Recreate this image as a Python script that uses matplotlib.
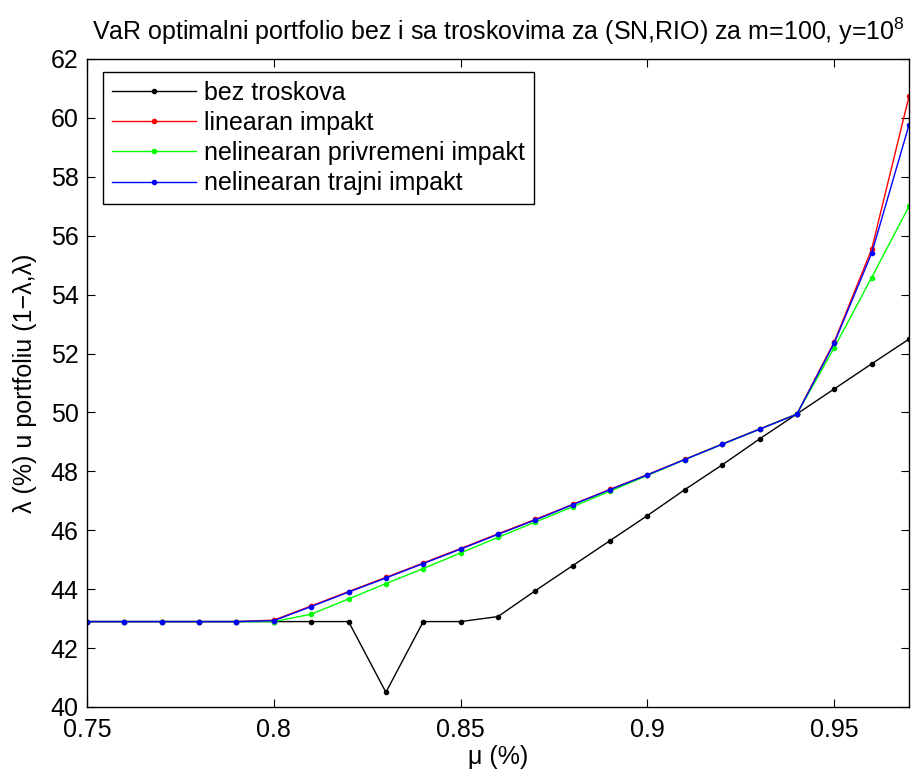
import matplotlib
matplotlib.use('Agg')
import matplotlib.pyplot as plt
import numpy as np

plt.rcParams['font.family'] = ['Liberation Sans', 'DejaVu Sans']
plt.rcParams['mathtext.fontset'] = 'custom'
plt.rcParams['mathtext.rm'] = 'Liberation Sans'

mu = [0.74, 0.75, 0.76, 0.77, 0.78, 0.79, 0.80, 0.81, 0.82, 0.83, 0.84, 0.85,
      0.86, 0.87, 0.88, 0.89, 0.90, 0.91, 0.92, 0.93, 0.94, 0.95, 0.96, 0.97]

bez_troskova = [42.9, 42.9, 42.9, 42.9, 42.9, 42.9, 42.9, 42.9, 42.9, 40.5, 42.9, 42.9,
                43.07, 43.95, 44.8, 45.65, 46.5, 47.38, 48.22, 49.1, 49.95, 50.8, 51.65, 52.49]
linearan = [42.9, 42.9, 42.9, 42.9, 42.9, 42.9, 42.95, 43.43, 43.92, 44.4, 44.89, 45.38,
            45.88, 46.37, 46.88, 47.39, 47.89, 48.41, 48.93, 49.44, 49.95, 52.4, 55.54, 60.73]
nelin_privremeni = [42.9, 42.9, 42.9, 42.9, 42.9, 42.9, 42.9, 43.15, 43.67, 44.19, 44.7, 45.23,
                    45.76, 46.28, 46.8, 47.33, 47.86, 48.4, 48.92, 49.43, 49.95, 52.2, 54.58, 57.0]
nelin_trajni = [42.9, 42.9, 42.9, 42.9, 42.9, 42.9, 42.93, 43.41, 43.9, 44.38, 44.87, 45.36,
                45.86, 46.35, 46.87, 47.38, 47.88, 48.4, 48.92, 49.43, 49.94, 52.36, 55.4, 59.76]

series = [(bez_troskova, 'k', 'bez troskova'),
          (linearan, 'r', 'linearan impakt'),
          (nelin_privremeni, (0, 1, 0), 'nelinearan privremeni impakt'),
          (nelin_trajni, 'b', 'nelinearan trajni impakt')]

fs = 18
fig = plt.figure(figsize=(9.14, 7.76), dpi=100)
# axes box: x 87..909 px, y 59..707 px
ax = fig.add_axes([87 / 914, (776 - 707) / 776, 822 / 914, 648 / 776])

for vals, col, lab in series:
    ax.plot(mu, vals, '.-', color=col, lw=1.0, ms=6, label=lab)

ax.set_xlim(0.75, 0.97)
ax.set_ylim(40, 62)
ax.set_xticks([0.75, 0.8, 0.85, 0.9, 0.95])
ax.set_xticklabels(['0.75', '0.8', '0.85', '0.9', '0.95'])
ax.set_yticks(np.arange(40, 63, 2))
ax.tick_params(direction='in', top=True, right=True, labelsize=fs, length=6)
ax.tick_params(axis='x', pad=8)
ax.tick_params(axis='y', pad=6)
for s in ax.spines.values():
    s.set_linewidth(1.0)

ax.set_xlabel('μ (%)', fontsize=fs, labelpad=2)
ax.set_ylabel('λ (%) u portfoliu (1−λ,λ)', fontsize=fs, labelpad=10)
ax.set_title('VaR optimalni portfolio bez i sa troskovima za (SN,RIO) za m=100, y=10$^8$',
             fontsize=fs, pad=14)

leg = ax.legend(loc='upper left', bbox_to_anchor=(0.0195, 0.98), borderaxespad=0,
                fontsize=fs, fancybox=False, edgecolor='k', framealpha=1,
                handlelength=3.35, borderpad=0.35, labelspacing=0.25, handletextpad=0.35)
leg.get_frame().set_linewidth(1.0)

fig.savefig('out.png', dpi=100)
